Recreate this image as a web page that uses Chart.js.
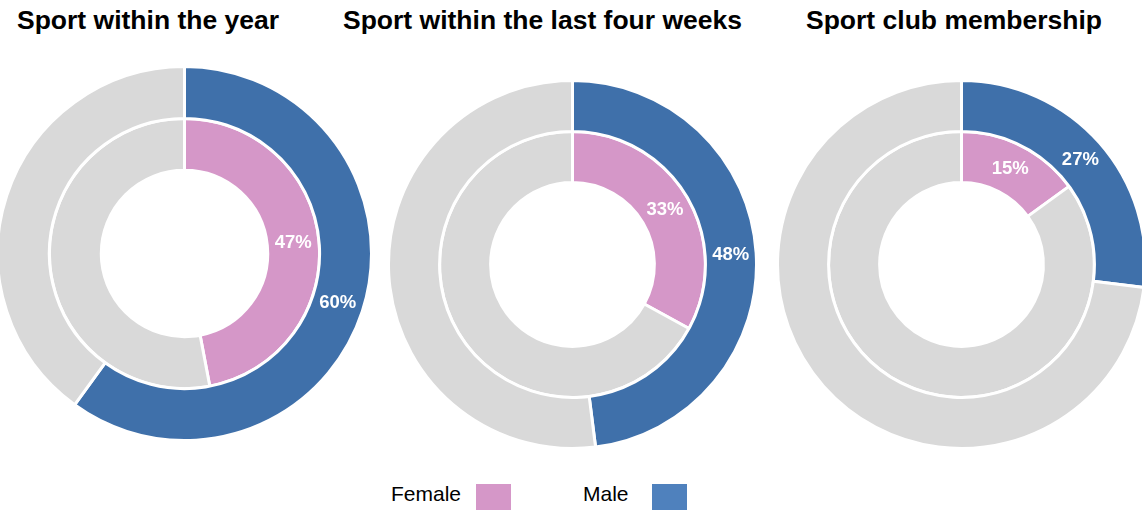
<!DOCTYPE html>
<html>
<head>
<meta charset="utf-8">
<script src="https://cdn.jsdelivr.net/npm/chart.js@4"></script>
<style>
  html, body { margin:0; padding:0; width:1142px; height:510px; overflow:hidden; background:#fff; font-family:"Liberation Sans", Arial, sans-serif; }
  .title { position:absolute; font-weight:bold; font-size:26.5px; color:#000; white-space:nowrap; line-height:1; }
  .wrap { position:absolute; }
  .leg { position:absolute; font-size:21px; color:#000; line-height:1; white-space:nowrap; }
  .box { position:absolute; width:35px; height:26px; }
</style>
</head>
<body>
<script>
// ---- data ----
const chartTitles = ["Sport within the year", "Sport within the last four weeks", "Sport club membership"];
const seriesNames = ["Male", "Female"];
const maleValues = [60, 48, 27];
const femaleValues = [47, 33, 15];
const legendLabels = ["Female", "Male"];

// ---- styles ----
const maleColor = "#3f70aa";
const femaleColor = "#d597c8";
const restColor = "#d9d9d9";
const legendColors = ["#d597c8", "#4f81bd"];

const layouts = [
  { cx:184, cy:253, r:187, tx:17, ty:7 },
  { cx:572, cy:264, r:184, tx:343, ty:7 },
  { cx:961, cy:264, r:184, tx:806, ty:7 }
];

const labelPlugin = {
  id: 'arcLabels',
  afterDatasetsDraw(chart) {
    const ctx = chart.ctx;
    ctx.save();
    ctx.fillStyle = '#fff';
    ctx.font = 'bold 18.5px "Liberation Sans", Arial, sans-serif';
    ctx.textAlign = 'center';
    ctx.textBaseline = 'middle';
    chart.data.datasets.forEach((ds, di) => {
      const meta = chart.getDatasetMeta(di);
      const arc = meta.data[0];
      const p = arc.tooltipPosition();
      ctx.fillText(ds.data[0] + '%', p.x, p.y);
    });
    ctx.restore();
  }
};

layouts.forEach((L, i) => {
  const t = document.createElement('div');
  t.className = 'title';
  t.style.left = L.tx + 'px';
  t.style.top = L.ty + 'px';
  t.textContent = chartTitles[i];
  document.body.appendChild(t);

  const w = document.createElement('div');
  w.className = 'wrap';
  const size = 2 * L.r + 3;
  w.style.left = (L.cx - size / 2) + 'px';
  w.style.top = (L.cy - size / 2) + 'px';
  w.style.width = size + 'px';
  w.style.height = size + 'px';
  const c = document.createElement('canvas');
  w.appendChild(c);
  document.body.appendChild(w);

  new Chart(c, {
    type: 'doughnut',
    data: {
      labels: [seriesNames[0], 'Other'],
      datasets: [
        { label: seriesNames[0], data: [maleValues[i], 100 - maleValues[i]], backgroundColor: [maleColor, restColor], borderColor: '#fff', borderWidth: 3 },
        { label: seriesNames[1], data: [femaleValues[i], 100 - femaleValues[i]], backgroundColor: [femaleColor, restColor], borderColor: '#fff', borderWidth: 3 }
      ]
    },
    options: {
      responsive: true,
      maintainAspectRatio: false,
      animation: false,
      cutout: '44.5%',
      layout: { padding: 0 },
      plugins: { legend: { display: false }, tooltip: { enabled: false }, title: { display: false } }
    },
    plugins: [labelPlugin]
  });
});

// legend
const legPos = [{ tx:391, bx:476 }, { tx:583, bx:652 }];
legendLabels.forEach((lab, i) => {
  const s = document.createElement('div');
  s.className = 'leg';
  s.style.left = legPos[i].tx + 'px';
  s.style.top = '483px';
  s.textContent = lab;
  document.body.appendChild(s);
  const b = document.createElement('div');
  b.className = 'box';
  b.style.left = legPos[i].bx + 'px';
  b.style.top = '484px';
  b.style.background = legendColors[i];
  document.body.appendChild(b);
});
</script>
</body>
</html>
